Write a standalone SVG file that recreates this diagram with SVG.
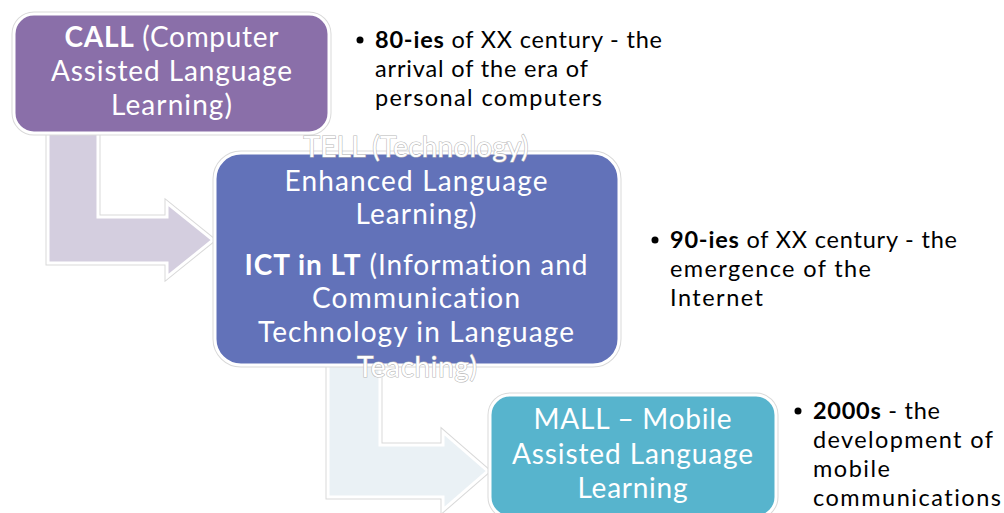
<svg xmlns="http://www.w3.org/2000/svg" width="1004" height="513" viewBox="0 0 1004 513">
<style>
.halo{fill:none;stroke:#d9d9d9;stroke-width:5}
.edge{stroke:#ffffff;stroke-width:3}
text{font-variant-ligatures:none}
.bt{font-family:Lato,"Liberation Sans",sans-serif;font-size:28px;fill:#ffffff;text-anchor:middle}
.ov{stroke:#b8b8b8;stroke-width:1.2;paint-order:stroke}
.lt{font-family:Lato,"Liberation Sans",sans-serif;font-size:23.5px;fill:#000000}
.b{font-weight:bold}
</style>
<rect width="1004" height="513" fill="#ffffff"/>
<g id="connectors">
  <path class="halo" d="M48,130 L98,130 L98,217 L167,217 L167,203 L213,240 L167,277 L167,263 L48,263 Z"/>
  <path class="edge" fill="#d4cedf" d="M48,130 L98,130 L98,217 L167,217 L167,203 L213,240 L167,277 L167,263 L48,263 Z"/>
  <path class="halo" d="M328,360 L380,360 L380,445 L443,445 L443,432 L488,471 L443,510 L443,497 L328,497 Z"/>
  <path class="edge" fill="#eaf1f5" d="M328,360 L380,360 L380,445 L443,445 L443,432 L488,471 L443,510 L443,497 L328,497 Z"/>
</g>
<g id="node-call">
  <rect class="halo" x="14" y="14" width="315" height="119" rx="20"/>
  <rect class="edge" x="14" y="14" width="315" height="119" rx="20" fill="#8a6fa9"/>
  <text class="bt" x="171.5" y="47" textLength="214"><tspan class="b">CALL</tspan> (Computer</text>
  <text class="bt" x="171.5" y="81" textLength="241">Assisted Language</text>
  <text class="bt" x="171.5" y="115" textLength="121">Learning)</text>
</g>
<g id="node-tell">
  <rect class="halo" x="215" y="153" width="404" height="212" rx="26"/>
  <rect class="edge" x="215" y="153" width="404" height="212" rx="26" fill="#6272b9"/>
  <text class="bt ov" x="416" y="157" textLength="225">TELL (Technology)</text>
  <text class="bt" x="416" y="191" textLength="263">Enhanced Language</text>
  <text class="bt" x="416" y="224" textLength="121">Learning)</text>
  <text class="bt" x="416" y="275" textLength="343"><tspan class="b">ICT in LT</tspan> (Information and</text>
  <text class="bt" x="416" y="308" textLength="208">Communication</text>
  <text class="bt" x="416" y="342" textLength="316">Technology in Language</text>
  <text class="bt ov" x="417" y="377" textLength="120">Teaching)</text>
</g>
<g id="node-mall">
  <rect class="halo" x="490" y="395" width="286" height="122" rx="20"/>
  <rect class="edge" x="490" y="395" width="286" height="122" rx="20" fill="#57b4cd"/>
  <text class="bt" x="632.5" y="429" textLength="198">MALL – Mobile</text>
  <text class="bt" x="632.5" y="464" textLength="241">Assisted Language</text>
  <text class="bt" x="632.5" y="498" textLength="110">Learning</text>
</g>
<g id="note-80s">
  <circle cx="360" cy="40" r="3.5" fill="#000"/>
  <text class="lt" x="375" y="48" textLength="287"><tspan class="b">80-ies</tspan> of XX century - the</text>
  <text class="lt" x="375" y="77" textLength="213">arrival of the era of</text>
  <text class="lt" x="375" y="106" textLength="227">personal computers</text>
</g>
<g id="note-90s">
  <circle cx="655" cy="240" r="3.5" fill="#000"/>
  <text class="lt" x="670" y="248" textLength="287"><tspan class="b">90-ies</tspan> of XX century - the</text>
  <text class="lt" x="670" y="277" textLength="201">emergence of the</text>
  <text class="lt" x="670" y="306" textLength="93">Internet</text>
</g>
<g id="note-2000s">
  <circle cx="798" cy="411" r="3.5" fill="#000"/>
  <text class="lt" x="813" y="419" textLength="127"><tspan class="b">2000s</tspan> - the</text>
  <text class="lt" x="813" y="448" textLength="180">development of</text>
  <text class="lt" x="813" y="477" textLength="77">mobile</text>
  <text class="lt" x="813" y="506" textLength="188">communications</text>
</g>
</svg>
